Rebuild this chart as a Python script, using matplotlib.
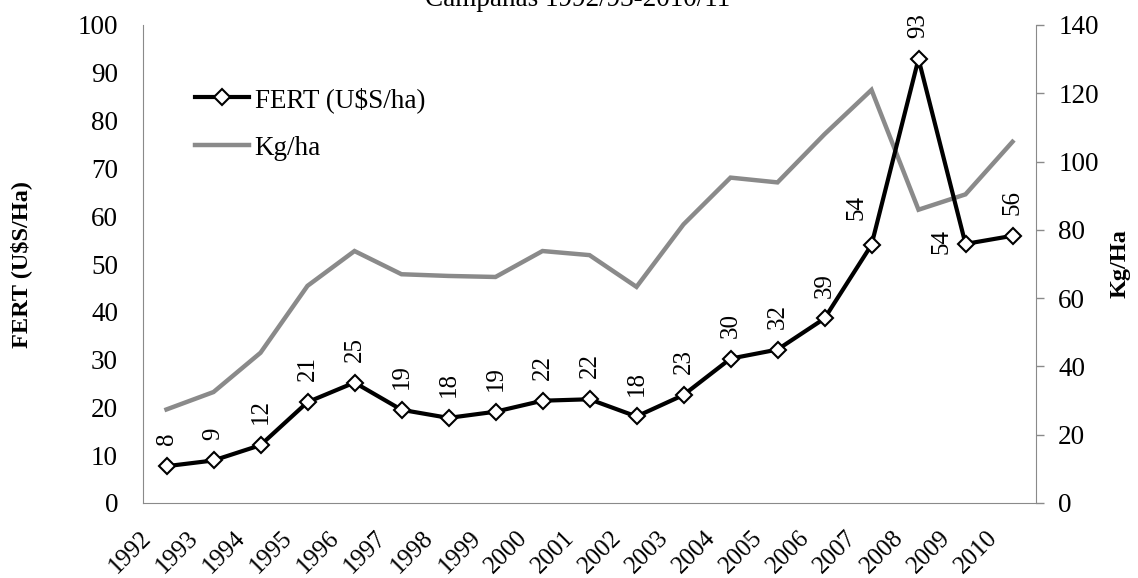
import matplotlib
matplotlib.use("Agg")
import matplotlib.pyplot as plt
from matplotlib.transforms import ScaledTranslation

years = [str(y) for y in range(1992, 2011)]
fert = [7.7, 8.9, 12.1, 21.1, 25.2, 19.5, 17.8, 19.1, 21.4, 21.7, 18.1, 22.6,
        30.2, 32.1, 38.6, 54.0, 92.9, 54.2, 55.9]
fert_labels = ["8", "9", "12", "21", "25", "19", "18", "19", "22", "22", "18", "23",
               "30", "32", "39", "54", "93", "54", "56"]
kgha = [27.4, 32.5, 44.0, 63.6, 73.8, 67.0, 66.5, 66.2, 73.8, 72.6, 63.3, 81.6,
        95.3, 93.9, 108.0, 121.0, 85.9, 90.4, 105.8]

plt.rcParams['font.family'] = ['Liberation Serif', 'DejaVu Serif']

fig = plt.figure(figsize=(11.38, 5.78), dpi=100)
L, R, B, T = 143 / 1138, 1036 / 1138, 1 - 503 / 578, 1 - 25 / 578
ax = fig.add_axes([L, B, R - L, T - B])
ax2 = ax.twinx()

x = list(range(len(years)))
gray = '#8a8a8a'
l2, = ax2.plot(x, kgha, color=gray, lw=3.2, solid_joinstyle='miter', label='Kg/ha')
l1, = ax.plot(x, fert, color='black', lw=3, marker='D', markersize=8,
              markerfacecolor='white', markeredgecolor='black', markeredgewidth=1.5,
              label='FERT (U$S/ha)')
ax.set_zorder(ax2.get_zorder() + 1)
ax.patch.set_visible(False)

ax.set_xlim(-0.5, len(years) - 0.5)
ax.set_ylim(0, 100)
ax2.set_ylim(0, 140)
ax.set_yticks(range(0, 101, 10))
ax2.set_yticks(range(0, 141, 20))
ax.set_xticks(x)
ax.set_xticklabels(years, rotation=45, ha='right', va='top', rotation_mode='anchor',
                   fontsize=18)
ax.tick_params(axis='x', length=0, pad=0)
off = ScaledTranslation(-26 / 100, -24 / 100, fig.dpi_scale_trans)
for lab in ax.get_xticklabels():
    lab.set_transform(lab.get_transform() + off)
ax.tick_params(axis='y', length=0, labelsize=19.5, pad=18)
ax2.tick_params(axis='y', length=6, width=1, color=gray, labelsize=19.5, pad=10)

for a in (ax, ax2):
    for s in a.spines.values():
        s.set_visible(False)
ax.spines['left'].set_visible(True)
ax.spines['bottom'].set_visible(True)
ax.spines['left'].set_color(gray)
ax.spines['bottom'].set_color(gray)
ax2.spines['right'].set_visible(True)
ax2.spines['right'].set_color(gray)

ax.set_ylabel('FERT (U$S/Ha)', fontsize=17.5, fontweight='bold', labelpad=33)
ax2.set_ylabel('Kg/Ha', fontsize=17.5, fontweight='bold', labelpad=8)

for i, (v, lab) in enumerate(zip(fert, fert_labels)):
    if i == 15:
        ax.annotate(lab, (i, v), xytext=(-11, 18), textcoords='offset points',
                    rotation=90, ha='center', va='bottom', fontsize=18)
    elif i == 17:
        ax.annotate(lab, (i, v), xytext=(-17, 2), textcoords='offset points',
                    rotation=90, ha='center', va='center', fontsize=18)
    else:
        ax.annotate(lab, (i, v), xytext=(0, 15), textcoords='offset points',
                    rotation=90, ha='center', va='bottom', fontsize=18)

leg = ax.legend(handles=[l1, l2], loc='upper left',
                bbox_to_anchor=((195 - 143) / 893, (503 - 87) / 478),
                frameon=False, fontsize=19.5, handlelength=2.0, handletextpad=0.2,
                labelspacing=0.85, borderpad=0, borderaxespad=0)

fig.text(0.508, 1 - 6 / 578, 'Campañas 1992/93-2010/11', ha='center', va='baseline',
         fontsize=19.5)

fig.savefig('out.png', dpi=100)
